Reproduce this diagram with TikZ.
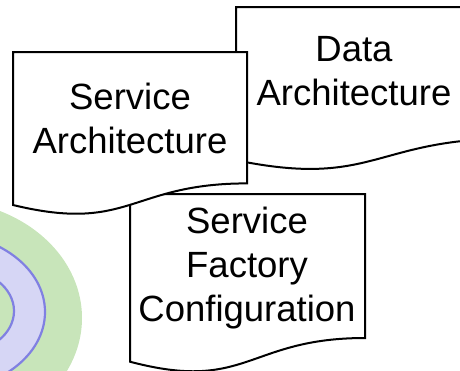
\documentclass[tikz,border=0pt]{standalone}
\usepackage{fontspec}
\setmainfont{Liberation Sans}
\definecolor{ringgreen}{RGB}{200,229,186}
\definecolor{ringpurple}{RGB}{214,214,245}
\definecolor{ringblue}{RGB}{128,128,226}
\tikzset{
  docshape/.style={draw=black, fill=white, line width=2pt, line join=miter},
  doclabel/.style={align=center, inner sep=0pt, font=\fontsize{36.5}{44}\selectfont},
  ringstroke/.style={draw=ringblue, line width=2.2pt}
}
\begin{document}
\begin{tikzpicture}[x=1pt,y=-1pt]
\useasboundingbox (0,0) rectangle (460,370);
\begin{scope}
\clip (0,0) rectangle (460,370);
% rings
\fill[ringgreen] (-60,318) ellipse [x radius=142, y radius=118];
\path[ringstroke, fill=ringpurple] (-60,312) ellipse [x radius=105, y radius=79];
\path[ringstroke, fill=ringgreen] (-40,311) ellipse [x radius=54, y radius=42];
% Data Architecture (w=276, h=164, top 7, left 236)
\path[docshape] (236,7) -- (512,7) -- (512,138.5)
  .. controls (374,138.5) and (374,188.6) .. (236,160.2) -- cycle;
% Service Factory Configuration (w=235, h=179.5, top 194, left 130)
\path[docshape] (130,194) -- (365,194) -- (365,338)
  .. controls (247.5,338) and (247.5,392.8) .. (130,361.7) -- cycle;
% Service Architecture (w=234, h=163.8, top 52, left 13)
\path[docshape] (13,52) -- (247,52) -- (247,183.4)
  .. controls (130,183.4) and (130,233.4) .. (13,205) -- cycle;
\end{scope}
\node[doclabel] (sa) at (130,118) {Service\\Architecture};
\node[doclabel] (da) at (354,71.5) {Data\\Architecture};
\node[doclabel] (sf) at (247,268) {Service\\Factory\\Configuration};
\end{tikzpicture}
\end{document}
